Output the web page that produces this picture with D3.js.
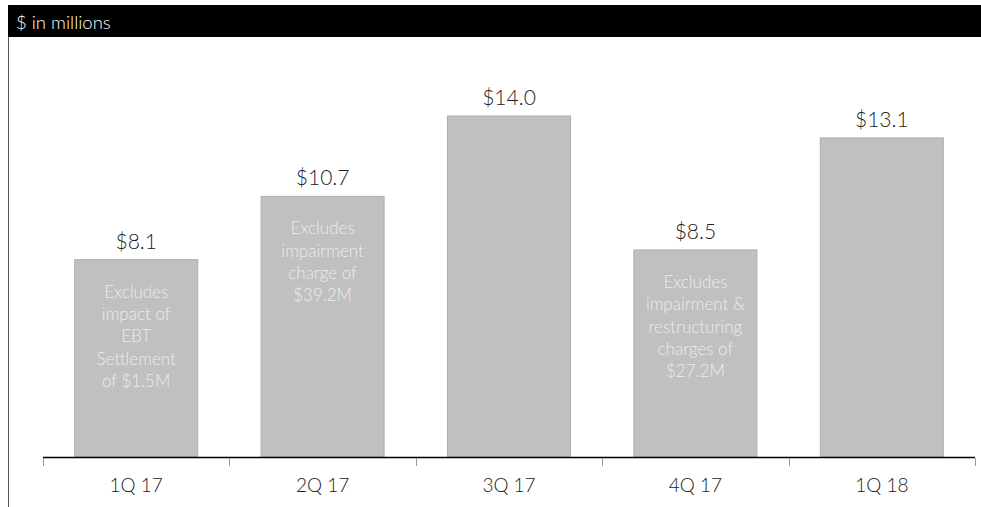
<!DOCTYPE html>
<html>
<head>
<meta charset="utf-8">
<script src="https://cdn.jsdelivr.net/npm/d3@7"></script>
<style>
  html, body { margin: 0; padding: 0; background: #fff; }
  svg { display: block; font-family: "Lato", "Open Sans", "DejaVu Sans", sans-serif; font-weight: 300; }
</style>
</head>
<body>
<svg id="chart" width="981" height="507"></svg>
<script>
// Quarterly values ($ in millions)
const quarters = ["1Q 17", "2Q 17", "3Q 17", "4Q 17", "1Q 18"];
const values = [8.1, 10.7, 14.0, 8.5, 13.1];
const valueLabels = ["$8.1", "$10.7", "$14.0", "$8.5", "$13.1"];
// Notes printed inside some bars, one array of lines per quarter
const notes = [
  ["Excludes", "impact of", "EBT", "Settlement", "of $1.5M"],
  ["Excludes", "impairment", "charge of", "$39.2M"],
  [],
  ["Excludes", "impairment &", "restructuring", "charges of", "$27.2M"],
  []
];
const headerText = "$ in millions";

const svg = d3.select("#chart");
const W = 981, H = 507;

// Header band
svg.append("rect").attr("x", 8).attr("y", 5).attr("width", W - 8).attr("height", 32).attr("fill", "#000");
svg.append("text").attr("x", 16).attr("y", 29).attr("fill", "#fff")
  .attr("font-size", 18.5).text(headerText);
// Left frame line
svg.append("line").attr("x1", 8.5).attr("x2", 8.5).attr("y1", 37).attr("y2", H)
  .attr("stroke", "#555").attr("stroke-width", 1);

const x = d3.scaleBand().domain(quarters).range([43, 975]).paddingInner(0.34).paddingOuter(0.17);
const y = d3.scaleLinear().domain([0, 14]).range([457, 116]);

const g = svg.append("g");

g.selectAll("rect.bar").data(values).join("rect")
  .attr("class", "bar")
  .attr("x", (d, i) => x(quarters[i]))
  .attr("y", d => y(d))
  .attr("width", x.bandwidth())
  .attr("height", d => y(0) - y(d))
  .attr("fill", "#c0c0c0")
  .attr("stroke", "#adadad")
  .attr("stroke-width", 1);

g.selectAll("text.val").data(values).join("text")
  .attr("class", "val")
  .attr("x", (d, i) => x(quarters[i]) + x.bandwidth() / 2)
  .attr("y", d => y(d) - 11)
  .attr("text-anchor", "middle")
  .attr("font-size", 21)
  .attr("fill", "#222")
  .text((d, i) => valueLabels[i]);

// Notes inside bars
notes.forEach((lines, i) => {
  const cx = x(quarters[i]) + x.bandwidth() / 2;
  const top = y(values[i]);
  lines.forEach((line, j) => {
    g.append("text")
      .attr("x", cx)
      .attr("y", top + 38 + j * 22.3)
      .attr("text-anchor", "middle")
      .attr("font-size", 17)
      .attr("fill", "#ececec")
      .text(line);
  });
});

// Category axis
const axis = d3.axisBottom(x).tickSize(0).tickPadding(22);
const ax = svg.append("g").attr("transform", "translate(0,457)").call(axis);
ax.select(".domain").remove();
ax.selectAll("text").attr("font-size", 19).attr("fill", "#222")
  .attr("font-family", "\"Lato\", \"Open Sans\", \"DejaVu Sans\", sans-serif");
svg.append("line").attr("x1", 43).attr("x2", 975).attr("y1", 457.5).attr("y2", 457.5)
  .attr("stroke", "#000").attr("stroke-width", 1.3);
// Boundary ticks between categories
const bounds = quarters.map(q => x(q) - x.step() * x.paddingInner() / 2);
bounds[0] = 43;
bounds.push(975);
svg.selectAll("line.sep").data(bounds).join("line")
  .attr("class", "sep")
  .attr("x1", d => Math.round(d) + 0.5).attr("x2", d => Math.round(d) + 0.5)
  .attr("y1", 458).attr("y2", 466)
  .attr("stroke", "#999").attr("stroke-width", 1);
</script>
</body>
</html>
